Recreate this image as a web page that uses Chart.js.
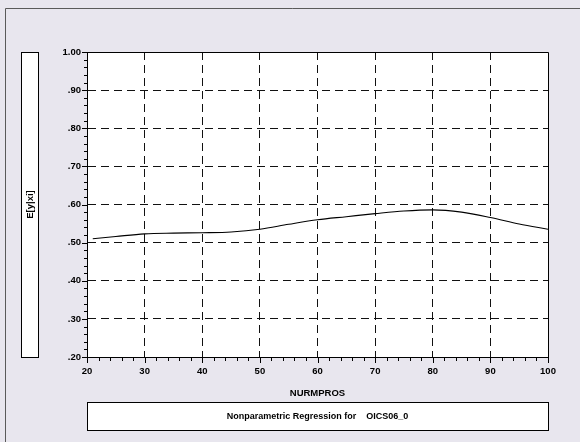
<!DOCTYPE html>
<html>
<head>
<meta charset="utf-8">
<script src="https://cdn.jsdelivr.net/npm/chart.js@4/dist/chart.umd.min.js"></script>
<style>
  html, body { margin: 0; padding: 0; background: #e8e6ee; }
  canvas { display: block; }
</style>
</head>
<body>
<canvas id="c" width="580" height="442"></canvas>
<script>
// Smoothed regression curve E[y|xi] against NURMPROS
const nurmpros = [21, 25, 30, 35, 40, 45, 50, 55, 60, 65, 70, 75, 80, 85, 90, 95, 100];
const expectedY = [0.510, 0.516, 0.523, 0.525, 0.526, 0.528, 0.535, 0.548, 0.560, 0.568,
                   0.576, 0.583, 0.586, 0.580, 0.566, 0.549, 0.535];

const xRange = [20, 100];
const yRange = [0.20, 1.00];
const xMajorStep = 10, xMinorStep = 2;
const yMajorStep = 0.1, yMinorStep = 0.02;

const xTitle = 'NURMPROS';
const yTitle = 'E[y|xi]';
const footTitle = 'Nonparametric Regression for    OICS06_0';

const FONT = '"Liberation Sans", Arial, sans-serif';

function isMajor(v, step) {
  const r = v / step;
  return Math.abs(r - Math.round(r)) < 1e-6;
}
function yLabel(v) {
  if (!isMajor(v, yMajorStep)) return '';
  if (v >= 0.9999) return v.toFixed(2);
  return v.toFixed(2).replace(/^0/, '');
}

const framePlugin = {
  id: 'frame',
  beforeDraw(chart) {
    const ctx = chart.ctx;
    const a = chart.chartArea;
    ctx.save();
    ctx.fillStyle = '#e8e6ee';
    ctx.fillRect(0, 0, chart.width, chart.height);
    // outer frame (left and top edges)
    ctx.strokeStyle = '#5a5a5a';
    ctx.lineWidth = 1;
    ctx.beginPath();
    ctx.moveTo(5.5, chart.height);
    ctx.lineTo(5.5, 8.5);
    ctx.lineTo(chart.width, 8.5);
    ctx.stroke();
    // plot background
    ctx.fillStyle = '#ffffff';
    ctx.fillRect(a.left, a.top, a.right - a.left, a.bottom - a.top);
    // y title box
    ctx.fillStyle = '#ffffff';
    ctx.fillRect(21, a.top, 17, a.bottom - a.top);
    ctx.strokeStyle = '#000';
    ctx.strokeRect(21.5, a.top + 0.5, 17, a.bottom - a.top);
    // foot title box
    ctx.fillRect(a.left, 402, a.right - a.left, 28);
    ctx.strokeRect(a.left + 0.5, 402.5, a.right - a.left, 28);
    // texts
    ctx.fillStyle = '#000';
    ctx.font = 'bold 9px ' + FONT;
    ctx.textAlign = 'center';
    ctx.textBaseline = 'middle';
    ctx.fillText(footTitle, (a.left + a.right) / 2, 417);
    ctx.font = 'bold 9.5px ' + FONT;
    ctx.fillText(xTitle, (a.left + a.right) / 2, 393);
    ctx.save();
    ctx.translate(30, (a.top + a.bottom) / 2);
    ctx.rotate(-Math.PI / 2);
    ctx.fillText(yTitle, 0, 0);
    ctx.restore();
    ctx.restore();
  },
  afterDraw(chart) {
    const ctx = chart.ctx;
    const a = chart.chartArea;
    const xs = chart.scales.x, ys = chart.scales.y;
    ctx.save();
    ctx.strokeStyle = '#000';
    ctx.lineWidth = 1;
    ctx.beginPath();
    // top and right borders of the plot box
    ctx.moveTo(Math.round(a.left) + 0.5, Math.round(a.top) + 0.5);
    ctx.lineTo(Math.round(a.right) + 0.5, Math.round(a.top) + 0.5);
    ctx.lineTo(Math.round(a.right) + 0.5, Math.round(a.bottom) + 0.5);
    // tick marks: long for majors, short for minors
    xs.ticks.forEach(t => {
      const px = Math.round(xs.getPixelForValue(t.value)) + 0.5;
      const len = isMajor(t.value, xMajorStep) ? 6 : 4;
      ctx.moveTo(px, Math.round(a.bottom));
      ctx.lineTo(px, Math.round(a.bottom) + len);
    });
    ys.ticks.forEach(t => {
      const py = Math.round(ys.getPixelForValue(t.value)) + 0.5;
      const len = isMajor(t.value, yMajorStep) ? 5 : 3;
      ctx.moveTo(Math.round(a.left), py);
      ctx.lineTo(Math.round(a.left) - len, py);
    });
    ctx.stroke();
    ctx.restore();
  }
};

const gridColor = (step, min, max) => (c) => {
  const v = c.tick ? c.tick.value : null;
  if (v === null || !isMajor(v, step)) return 'rgba(0,0,0,0)';
  if (Math.abs(v - min) < 1e-6 || Math.abs(v - max) < 1e-6) return 'rgba(0,0,0,0)';
  return '#111';
};

new Chart(document.getElementById('c'), {
  type: 'line',
  data: {
    datasets: [{
      data: nurmpros.map((x, i) => ({ x: x, y: expectedY[i] })),
      borderColor: '#000',
      borderWidth: 1.1,
      pointRadius: 0,
      fill: false,
      cubicInterpolationMode: 'monotone'
    }]
  },
  options: {
    responsive: false,
    animation: false,
    devicePixelRatio: 1,
    layout: { padding: { left: 0, right: 32, top: 52, bottom: 0 } },
    plugins: { legend: { display: false }, tooltip: { enabled: false } },
    scales: {
      x: {
        type: 'linear',
        min: xRange[0], max: xRange[1],
        afterFit(s) { s.height = 85; },
        ticks: {
          stepSize: xMinorStep,
          autoSkip: false,
          maxRotation: 0,
          padding: 3,
          color: '#000',
          font: { family: FONT, size: 9.5, weight: 'bold' },
          callback: (v) => isMajor(v, xMajorStep) ? String(v) : ''
        },
        grid: {
          color: gridColor(xMajorStep, xRange[0], xRange[1]),
          lineWidth: 1,
          tickLength: 6,
          tickColor: 'rgba(0,0,0,0)'
        },
        border: { display: true, color: '#000', width: 1, dash: [8, 5] }
      },
      y: {
        type: 'linear',
        min: yRange[0], max: yRange[1],
        afterFit(s) { s.width = 87; },
        ticks: {
          stepSize: yMinorStep,
          autoSkip: false,
          padding: 1,
          color: '#000',
          font: { family: FONT, size: 9.5, weight: 'bold' },
          callback: yLabel
        },
        grid: {
          color: gridColor(yMajorStep, yRange[0], yRange[1]),
          lineWidth: 1,
          tickLength: 5,
          tickColor: 'rgba(0,0,0,0)'
        },
        border: { display: true, color: '#000', width: 1, dash: [8, 5] }
      }
    }
  },
  plugins: [framePlugin]
});
</script>
</body>
</html>
